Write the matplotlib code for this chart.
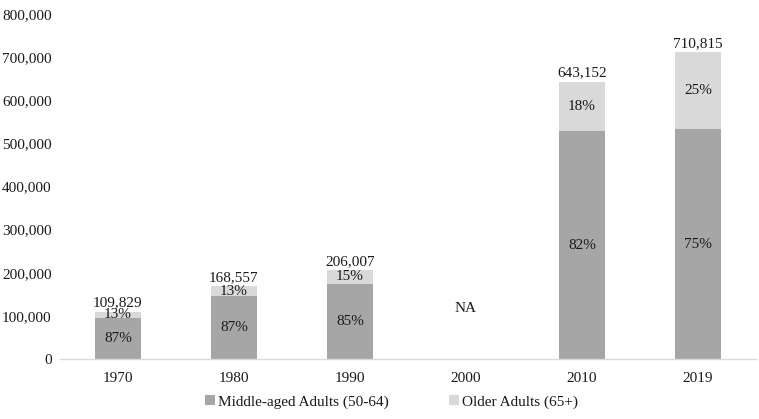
import matplotlib
matplotlib.use("Agg")
import matplotlib.pyplot as plt
import numpy as np

years = ["1970", "1980", "1990", "2000", "2010", "2019"]
totals = [109829, 168557, 206007, None, 643152, 710815]
pct_middle = [87, 87, 85, None, 82, 75]
pct_older = [13, 13, 15, None, 18, 25]
series_names = ["Middle-aged Adults (50-64)", "Older Adults (65+)"]
yticks = [0, 100000, 200000, 300000, 400000, 500000, 600000, 700000, 800000]

plt.rcParams['font.family'] = ['Liberation Serif', 'DejaVu Serif']
c_mid = "#a6a6a6"
c_old = "#d9d9d9"
tc = "#1a1a1a"

fig = plt.figure(figsize=(7.59, 4.19), dpi=100)
ax = fig.add_axes([0.079, 0.143, 0.917, 0.824])

x = np.arange(len(years))
w = 0.4
fs = 11
for i, (t, pm, po) in enumerate(zip(totals, pct_middle, pct_older)):
    if t is None:
        ax.text(i, 118000, "NA", ha="center", va="center", fontsize=fs, color=tc)
        continue
    mid = t * pm / 100.0
    old = t - mid
    ax.bar(i, mid, w, color=c_mid, label=series_names[0] if i == 0 else None)
    ax.bar(i, old, w, bottom=mid, color=c_old, label=series_names[1] if i == 0 else None)
    ax.text(i, mid / 2, f"{pm}%", ha="center", va="center", fontsize=fs, color=tc)
    ax.text(i, mid + old / 2, f"{po}%", ha="center", va="center", fontsize=fs, color=tc)
    ax.text(i, t + 5000, f"{t:,}", ha="center", va="bottom", fontsize=fs, color=tc)

ax.set_xlim(-0.5, len(years) - 0.5)
ax.set_ylim(0, 800000)
ax.set_xticks(x)
ax.set_xticklabels(years, fontsize=fs, color=tc)
ax.set_yticks(yticks)
ax.set_yticklabels([f"{v:,}" for v in yticks], fontsize=fs, color=tc)
ax.tick_params(axis="y", length=0, pad=6)
ax.tick_params(axis="x", length=0, pad=9)
for s in ["top", "right", "left"]:
    ax.spines[s].set_visible(False)
ax.spines["bottom"].set_color("#d9d9d9")
ax.spines["bottom"].set_linewidth(1)

fig.legend(loc="lower center", bbox_to_anchor=(0.516, -0.008), ncol=2, frameon=False,
           fontsize=fs, handlelength=0.65, handleheight=0.65, handletextpad=0.2,
           columnspacing=3.95, labelcolor=tc)

fig.savefig("out.png", dpi=100)
